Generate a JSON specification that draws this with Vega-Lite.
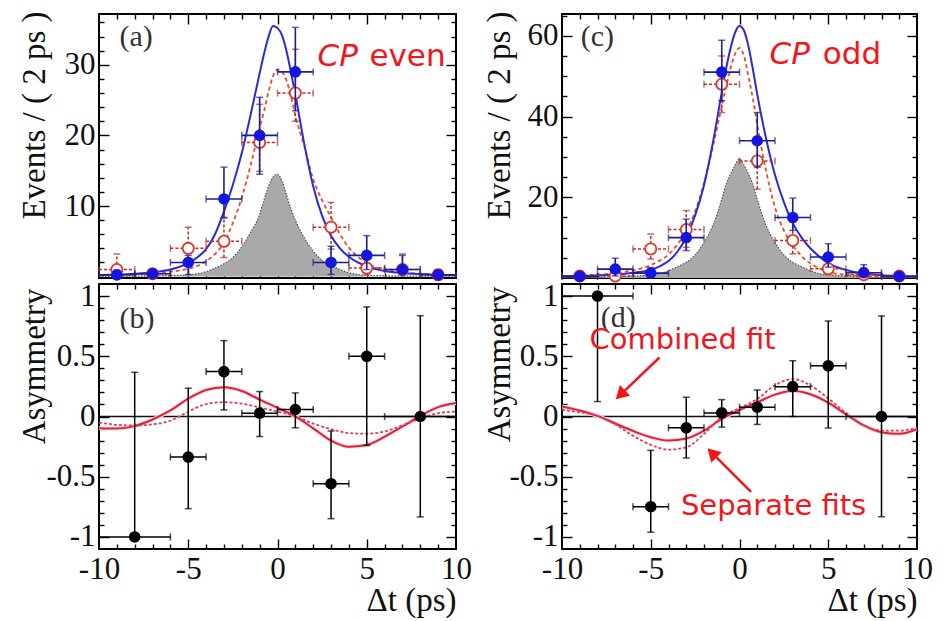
{
"$schema": "https://vega.github.io/schema/vega-lite/v6.json",
"background": "white",
"padding": {"left": 16, "top": 10, "right": 5, "bottom": 5},
"config": {
  "view": {"stroke": "#000000", "strokeWidth": 2},
  "axis": {"domain": false, "grid": false, "tickColor": "#000000", "tickWidth": 1.4, "labelFont": "Liberation Serif", "labelFontSize": 31, "labelColor": "#111111", "titleFont": "Liberation Serif", "titleFontSize": 33, "titleFontWeight": "normal", "titleColor": "#111111", "labelFlush": false, "labelOverlap": false, "labelBound": false}
},
"datasets": {
  "evt": [
    {"p":"a","s":"B","x":-9,"y":0.25,"lo":0,"hi":0.9,"xlo":-10,"xhi":-8},
    {"p":"a","s":"B","x":-7,"y":0.4,"lo":0,"hi":1.0,"xlo":-8,"xhi":-6},
    {"p":"a","s":"B","x":-5,"y":2,"lo":0.3,"hi":3.0,"xlo":-6,"xhi":-4},
    {"p":"a","s":"B","x":-3,"y":11,"lo":8.3,"hi":15.5,"xlo":-4,"xhi":-2},
    {"p":"a","s":"B","x":-1,"y":20,"lo":14.5,"hi":25.4,"xlo":-2,"xhi":0},
    {"p":"a","s":"B","x":1,"y":29,"lo":23.5,"hi":35.3,"xlo":0,"xhi":2},
    {"p":"a","s":"B","x":3,"y":2,"lo":0.3,"hi":4.3,"xlo":2,"xhi":4},
    {"p":"a","s":"B","x":5,"y":3,"lo":1.0,"hi":5.8,"xlo":4,"xhi":6},
    {"p":"a","s":"B","x":7,"y":1,"lo":0.3,"hi":3.0,"xlo":6,"xhi":8},
    {"p":"a","s":"B","x":9,"y":0.25,"lo":0,"hi":0.9,"xlo":8,"xhi":10},
    {"p":"a","s":"R","x":-9,"y":1,"lo":0.3,"hi":3.2,"xlo":-10,"xhi":-8},
    {"p":"a","s":"R","x":-7,"y":0.4,"lo":0,"hi":1.0,"xlo":-8,"xhi":-6},
    {"p":"a","s":"R","x":-5,"y":4,"lo":1.7,"hi":7.0,"xlo":-6,"xhi":-4},
    {"p":"a","s":"R","x":-3,"y":5,"lo":2.7,"hi":8.4,"xlo":-4,"xhi":-2},
    {"p":"a","s":"R","x":-1,"y":19,"lo":14.9,"hi":24.4,"xlo":-2,"xhi":0},
    {"p":"a","s":"R","x":1,"y":26,"lo":22,"hi":32.2,"xlo":0,"xhi":2},
    {"p":"a","s":"R","x":3,"y":7,"lo":3.9,"hi":10.5,"xlo":2,"xhi":4},
    {"p":"a","s":"R","x":5,"y":1.2,"lo":0.4,"hi":2.8,"xlo":4,"xhi":6},
    {"p":"a","s":"R","x":7,"y":1,"lo":0.3,"hi":3.2,"xlo":6,"xhi":8},
    {"p":"a","s":"R","x":9,"y":0.25,"lo":0,"hi":1.0,"xlo":8,"xhi":10},
    {"p":"c","s":"B","x":-9,"y":0.4,"lo":0,"hi":1.2,"xlo":-10,"xhi":-8},
    {"p":"c","s":"B","x":-7,"y":2.2,"lo":0.5,"hi":4.9,"xlo":-8,"xhi":-6},
    {"p":"c","s":"B","x":-5,"y":1.2,"lo":0.3,"hi":2.6,"xlo":-6,"xhi":-4},
    {"p":"c","s":"B","x":-3,"y":10,"lo":6.8,"hi":14.6,"xlo":-4,"xhi":-2},
    {"p":"c","s":"B","x":-1,"y":51,"lo":43.9,"hi":58.9,"xlo":-2,"xhi":0},
    {"p":"c","s":"B","x":1,"y":34,"lo":27.4,"hi":41,"xlo":0,"xhi":2},
    {"p":"c","s":"B","x":3,"y":15,"lo":11.8,"hi":19.8,"xlo":2,"xhi":4},
    {"p":"c","s":"B","x":5,"y":5.2,"lo":2.7,"hi":8.5,"xlo":4,"xhi":6},
    {"p":"c","s":"B","x":7,"y":1.3,"lo":0.3,"hi":3.3,"xlo":6,"xhi":8},
    {"p":"c","s":"B","x":9,"y":0.4,"lo":0,"hi":1.2,"xlo":8,"xhi":10},
    {"p":"c","s":"R","x":-9,"y":0.5,"lo":0,"hi":1.2,"xlo":-10,"xhi":-8},
    {"p":"c","s":"R","x":-7,"y":0.5,"lo":0,"hi":1.2,"xlo":-8,"xhi":-6},
    {"p":"c","s":"R","x":-5,"y":7.2,"lo":4.7,"hi":10.9,"xlo":-6,"xhi":-4},
    {"p":"c","s":"R","x":-3,"y":12,"lo":7.6,"hi":16.7,"xlo":-4,"xhi":-2},
    {"p":"c","s":"R","x":-1,"y":48,"lo":41,"hi":55,"xlo":-2,"xhi":0},
    {"p":"c","s":"R","x":1,"y":29,"lo":22,"hi":34.8,"xlo":0,"xhi":2},
    {"p":"c","s":"R","x":3,"y":9.3,"lo":6,"hi":13.8,"xlo":2,"xhi":4},
    {"p":"c","s":"R","x":5,"y":2.3,"lo":1,"hi":4.5,"xlo":4,"xhi":6},
    {"p":"c","s":"R","x":7,"y":0.8,"lo":0.2,"hi":2.5,"xlo":6,"xhi":8},
    {"p":"c","s":"R","x":9,"y":0.5,"lo":0,"hi":1.2,"xlo":8,"xhi":10}
  ],
  "fit": [
    {"p":"a","c":"B","x":-10,"y":0.2},{"p":"a","c":"B","x":-9,"y":0.28},{"p":"a","c":"B","x":-8,"y":0.4},{"p":"a","c":"B","x":-7,"y":0.6},{"p":"a","c":"B","x":-6,"y":1.0},{"p":"a","c":"B","x":-5,"y":1.9},{"p":"a","c":"B","x":-4.5,"y":2.7},{"p":"a","c":"B","x":-4,"y":3.9},{"p":"a","c":"B","x":-3.5,"y":6.0},{"p":"a","c":"B","x":-3,"y":9.2},{"p":"a","c":"B","x":-2.5,"y":13.0},{"p":"a","c":"B","x":-2,"y":17.5},{"p":"a","c":"B","x":-1.5,"y":23.0},{"p":"a","c":"B","x":-1,"y":28.8},{"p":"a","c":"B","x":-0.75,"y":31.6},{"p":"a","c":"B","x":-0.5,"y":34.0},{"p":"a","c":"B","x":-0.25,"y":35.5},{"p":"a","c":"B","x":0,"y":35.2},{"p":"a","c":"B","x":0.25,"y":34.2},{"p":"a","c":"B","x":0.5,"y":32.0},{"p":"a","c":"B","x":0.75,"y":29.0},{"p":"a","c":"B","x":1,"y":25.8},{"p":"a","c":"B","x":1.5,"y":18.8},{"p":"a","c":"B","x":2,"y":12.8},{"p":"a","c":"B","x":2.5,"y":8.6},{"p":"a","c":"B","x":3,"y":5.8},{"p":"a","c":"B","x":3.5,"y":4.0},{"p":"a","c":"B","x":4,"y":2.8},{"p":"a","c":"B","x":4.5,"y":2.0},{"p":"a","c":"B","x":5,"y":1.45},{"p":"a","c":"B","x":6,"y":0.8},{"p":"a","c":"B","x":7,"y":0.5},{"p":"a","c":"B","x":8,"y":0.35},{"p":"a","c":"B","x":9,"y":0.25},{"p":"a","c":"B","x":10,"y":0.2},
    {"p":"a","c":"R","x":-10,"y":0.15},{"p":"a","c":"R","x":-9,"y":0.2},{"p":"a","c":"R","x":-8,"y":0.3},{"p":"a","c":"R","x":-7,"y":0.45},{"p":"a","c":"R","x":-6,"y":0.7},{"p":"a","c":"R","x":-5,"y":1.1},{"p":"a","c":"R","x":-4.5,"y":1.5},{"p":"a","c":"R","x":-4,"y":2.2},{"p":"a","c":"R","x":-3.5,"y":3.2},{"p":"a","c":"R","x":-3,"y":4.8},{"p":"a","c":"R","x":-2.5,"y":7.6},{"p":"a","c":"R","x":-2,"y":11.2},{"p":"a","c":"R","x":-1.5,"y":15.8},{"p":"a","c":"R","x":-1,"y":21.0},{"p":"a","c":"R","x":-0.75,"y":23.5},{"p":"a","c":"R","x":-0.5,"y":26.2},{"p":"a","c":"R","x":-0.25,"y":28.4},{"p":"a","c":"R","x":0,"y":29.3},{"p":"a","c":"R","x":0.25,"y":29.0},{"p":"a","c":"R","x":0.5,"y":27.8},{"p":"a","c":"R","x":0.75,"y":25.6},{"p":"a","c":"R","x":1,"y":22.8},{"p":"a","c":"R","x":1.5,"y":18.5},{"p":"a","c":"R","x":2,"y":13.8},{"p":"a","c":"R","x":2.5,"y":10.8},{"p":"a","c":"R","x":3,"y":8.4},{"p":"a","c":"R","x":3.5,"y":6.0},{"p":"a","c":"R","x":4,"y":4.1},{"p":"a","c":"R","x":4.5,"y":2.8},{"p":"a","c":"R","x":5,"y":1.9},{"p":"a","c":"R","x":6,"y":1.0},{"p":"a","c":"R","x":7,"y":0.6},{"p":"a","c":"R","x":8,"y":0.4},{"p":"a","c":"R","x":9,"y":0.3},{"p":"a","c":"R","x":10,"y":0.2},
    {"p":"a","c":"K","x":-10,"y":0.05},{"p":"a","c":"K","x":-8,"y":0.08},{"p":"a","c":"K","x":-6,"y":0.15},{"p":"a","c":"K","x":-5,"y":0.25},{"p":"a","c":"K","x":-4.5,"y":0.4},{"p":"a","c":"K","x":-4,"y":0.7},{"p":"a","c":"K","x":-3.5,"y":1.2},{"p":"a","c":"K","x":-3,"y":1.8},{"p":"a","c":"K","x":-2.5,"y":2.7},{"p":"a","c":"K","x":-2,"y":4.2},{"p":"a","c":"K","x":-1.5,"y":6.3},{"p":"a","c":"K","x":-1,"y":8.8},{"p":"a","c":"K","x":-0.75,"y":10.9},{"p":"a","c":"K","x":-0.5,"y":12.8},{"p":"a","c":"K","x":-0.25,"y":14.1},{"p":"a","c":"K","x":0,"y":14.5},{"p":"a","c":"K","x":0.25,"y":13.6},{"p":"a","c":"K","x":0.5,"y":11.6},{"p":"a","c":"K","x":0.75,"y":9.6},{"p":"a","c":"K","x":1,"y":8.0},{"p":"a","c":"K","x":1.5,"y":5.5},{"p":"a","c":"K","x":2,"y":3.6},{"p":"a","c":"K","x":2.5,"y":2.3},{"p":"a","c":"K","x":3,"y":1.6},{"p":"a","c":"K","x":3.5,"y":1.0},{"p":"a","c":"K","x":4,"y":0.55},{"p":"a","c":"K","x":4.5,"y":0.3},{"p":"a","c":"K","x":5,"y":0.2},{"p":"a","c":"K","x":6,"y":0.12},{"p":"a","c":"K","x":8,"y":0.08},{"p":"a","c":"K","x":10,"y":0.05},
    {"p":"c","c":"B","x":-10,"y":0.37},{"p":"c","c":"B","x":-9,"y":0.5},{"p":"c","c":"B","x":-8,"y":0.65},{"p":"c","c":"B","x":-7,"y":0.87},{"p":"c","c":"B","x":-6,"y":1.3},{"p":"c","c":"B","x":-5,"y":2.0},{"p":"c","c":"B","x":-4.5,"y":2.9},{"p":"c","c":"B","x":-4,"y":4.2},{"p":"c","c":"B","x":-3.5,"y":6.5},{"p":"c","c":"B","x":-3,"y":10.1},{"p":"c","c":"B","x":-2.5,"y":15.5},{"p":"c","c":"B","x":-2,"y":23.0},{"p":"c","c":"B","x":-1.5,"y":33.5},{"p":"c","c":"B","x":-1,"y":46.0},{"p":"c","c":"B","x":-0.75,"y":52.0},{"p":"c","c":"B","x":-0.5,"y":57.0},{"p":"c","c":"B","x":-0.25,"y":60.8},{"p":"c","c":"B","x":0,"y":62.4},{"p":"c","c":"B","x":0.25,"y":61.3},{"p":"c","c":"B","x":0.5,"y":57.5},{"p":"c","c":"B","x":0.75,"y":51.8},{"p":"c","c":"B","x":1,"y":45.5},{"p":"c","c":"B","x":1.5,"y":34.5},{"p":"c","c":"B","x":2,"y":25.5},{"p":"c","c":"B","x":2.5,"y":18.8},{"p":"c","c":"B","x":3,"y":13.6},{"p":"c","c":"B","x":3.5,"y":10.0},{"p":"c","c":"B","x":4,"y":7.3},{"p":"c","c":"B","x":4.5,"y":5.3},{"p":"c","c":"B","x":5,"y":3.7},{"p":"c","c":"B","x":6,"y":2.0},{"p":"c","c":"B","x":7,"y":1.15},{"p":"c","c":"B","x":8,"y":0.7},{"p":"c","c":"B","x":9,"y":0.5},{"p":"c","c":"B","x":10,"y":0.37},
    {"p":"c","c":"R","x":-10,"y":0.4},{"p":"c","c":"R","x":-9,"y":0.55},{"p":"c","c":"R","x":-8,"y":0.8},{"p":"c","c":"R","x":-7,"y":1.2},{"p":"c","c":"R","x":-6,"y":1.9},{"p":"c","c":"R","x":-5,"y":3.2},{"p":"c","c":"R","x":-4.5,"y":4.3},{"p":"c","c":"R","x":-4,"y":5.8},{"p":"c","c":"R","x":-3.5,"y":8.3},{"p":"c","c":"R","x":-3,"y":11.6},{"p":"c","c":"R","x":-2.5,"y":16.5},{"p":"c","c":"R","x":-2,"y":23.5},{"p":"c","c":"R","x":-1.5,"y":32.5},{"p":"c","c":"R","x":-1,"y":42.5},{"p":"c","c":"R","x":-0.75,"y":47.5},{"p":"c","c":"R","x":-0.5,"y":52.0},{"p":"c","c":"R","x":-0.25,"y":55.5},{"p":"c","c":"R","x":0,"y":57.0},{"p":"c","c":"R","x":0.25,"y":55.0},{"p":"c","c":"R","x":0.5,"y":50.0},{"p":"c","c":"R","x":0.75,"y":44.5},{"p":"c","c":"R","x":1,"y":38.0},{"p":"c","c":"R","x":1.5,"y":26.5},{"p":"c","c":"R","x":2,"y":17.5},{"p":"c","c":"R","x":2.5,"y":11.8},{"p":"c","c":"R","x":3,"y":8.2},{"p":"c","c":"R","x":3.5,"y":5.4},{"p":"c","c":"R","x":4,"y":3.6},{"p":"c","c":"R","x":4.5,"y":2.4},{"p":"c","c":"R","x":5,"y":1.5},{"p":"c","c":"R","x":6,"y":0.8},{"p":"c","c":"R","x":7,"y":0.5},{"p":"c","c":"R","x":8,"y":0.4},{"p":"c","c":"R","x":9,"y":0.35},{"p":"c","c":"R","x":10,"y":0.3},
    {"p":"c","c":"K","x":-10,"y":0.1},{"p":"c","c":"K","x":-8,"y":0.2},{"p":"c","c":"K","x":-7,"y":0.3},{"p":"c","c":"K","x":-6,"y":0.45},{"p":"c","c":"K","x":-5,"y":0.8},{"p":"c","c":"K","x":-4.5,"y":1.1},{"p":"c","c":"K","x":-4,"y":1.8},{"p":"c","c":"K","x":-3.5,"y":2.8},{"p":"c","c":"K","x":-3,"y":3.9},{"p":"c","c":"K","x":-2.5,"y":5.7},{"p":"c","c":"K","x":-2,"y":8.8},{"p":"c","c":"K","x":-1.5,"y":13.0},{"p":"c","c":"K","x":-1,"y":19.5},{"p":"c","c":"K","x":-0.75,"y":23.3},{"p":"c","c":"K","x":-0.5,"y":25.8},{"p":"c","c":"K","x":-0.25,"y":28.0},{"p":"c","c":"K","x":0,"y":29.5},{"p":"c","c":"K","x":0.25,"y":28.0},{"p":"c","c":"K","x":0.5,"y":25.8},{"p":"c","c":"K","x":0.75,"y":23.3},{"p":"c","c":"K","x":1,"y":19.5},{"p":"c","c":"K","x":1.5,"y":13.0},{"p":"c","c":"K","x":2,"y":8.8},{"p":"c","c":"K","x":2.5,"y":5.7},{"p":"c","c":"K","x":3,"y":3.9},{"p":"c","c":"K","x":3.5,"y":2.8},{"p":"c","c":"K","x":4,"y":1.8},{"p":"c","c":"K","x":4.5,"y":1.1},{"p":"c","c":"K","x":5,"y":0.8},{"p":"c","c":"K","x":6,"y":0.45},{"p":"c","c":"K","x":7,"y":0.3},{"p":"c","c":"K","x":8,"y":0.2},{"p":"c","c":"K","x":10,"y":0.1}
  ],
  "apt": [
    {"p":"b","x":-8,"y":-1.0,"lo":-1.0,"hi":0.367,"xlo":-10,"xhi":-6},
    {"p":"b","x":-5,"y":-0.337,"lo":-0.765,"hi":0.235,"xlo":-6,"xhi":-4},
    {"p":"b","x":-3,"y":0.373,"lo":0.055,"hi":0.63,"xlo":-4,"xhi":-2},
    {"p":"b","x":-1,"y":0.028,"lo":-0.166,"hi":0.207,"xlo":-2,"xhi":0},
    {"p":"b","x":1,"y":0.058,"lo":-0.094,"hi":0.196,"xlo":0,"xhi":2},
    {"p":"b","x":3,"y":-0.558,"lo":-0.848,"hi":-0.12,"xlo":2,"xhi":4},
    {"p":"b","x":5,"y":0.5,"lo":-0.24,"hi":0.91,"xlo":4,"xhi":6},
    {"p":"b","x":8,"y":0,"lo":-0.834,"hi":0.837,"xlo":6,"xhi":10},
    {"p":"d","x":-8,"y":1.0,"lo":0.124,"hi":1.0,"xlo":-10,"xhi":-6},
    {"p":"d","x":-5,"y":-0.749,"lo":-0.961,"hi":-0.281,"xlo":-6,"xhi":-4},
    {"p":"d","x":-3,"y":-0.094,"lo":-0.344,"hi":0.16,"xlo":-4,"xhi":-2},
    {"p":"d","x":-1,"y":0.03,"lo":-0.088,"hi":0.14,"xlo":-2,"xhi":0},
    {"p":"d","x":1,"y":0.077,"lo":-0.066,"hi":0.22,"xlo":0,"xhi":2},
    {"p":"d","x":3,"y":0.248,"lo":0.0,"hi":0.463,"xlo":2,"xhi":4},
    {"p":"d","x":5,"y":0.421,"lo":-0.096,"hi":0.793,"xlo":4,"xhi":6},
    {"p":"d","x":8,"y":0,"lo":-0.832,"hi":0.835,"xlo":6,"xhi":10}
  ],
  "afit": [
    {"p":"b","c":"C","x":-10,"y":-0.097},{"p":"b","c":"C","x":-9,"y":-0.1},{"p":"b","c":"C","x":-8,"y":-0.08},{"p":"b","c":"C","x":-7,"y":-0.025},{"p":"b","c":"C","x":-6,"y":0.05},{"p":"b","c":"C","x":-5,"y":0.148},{"p":"b","c":"C","x":-4,"y":0.22},{"p":"b","c":"C","x":-3,"y":0.243},{"p":"b","c":"C","x":-2,"y":0.212},{"p":"b","c":"C","x":-1,"y":0.14},{"p":"b","c":"C","x":0,"y":0.072},{"p":"b","c":"C","x":1,"y":0.002},{"p":"b","c":"C","x":2,"y":-0.098},{"p":"b","c":"C","x":3,"y":-0.2},{"p":"b","c":"C","x":4,"y":-0.252},{"p":"b","c":"C","x":5,"y":-0.237},{"p":"b","c":"C","x":6,"y":-0.168},{"p":"b","c":"C","x":7,"y":-0.083},{"p":"b","c":"C","x":8,"y":0.005},{"p":"b","c":"C","x":9,"y":0.078},{"p":"b","c":"C","x":10,"y":0.112},
    {"p":"b","c":"S","x":-10,"y":-0.05},{"p":"b","c":"S","x":-9,"y":-0.069},{"p":"b","c":"S","x":-8,"y":-0.075},{"p":"b","c":"S","x":-7,"y":-0.065},{"p":"b","c":"S","x":-6,"y":-0.035},{"p":"b","c":"S","x":-5.5,"y":0.0},{"p":"b","c":"S","x":-5,"y":0.04},{"p":"b","c":"S","x":-4,"y":0.103},{"p":"b","c":"S","x":-3,"y":0.119},{"p":"b","c":"S","x":-2,"y":0.107},{"p":"b","c":"S","x":-1,"y":0.075},{"p":"b","c":"S","x":0,"y":0.041},{"p":"b","c":"S","x":1,"y":0.001},{"p":"b","c":"S","x":2,"y":-0.059},{"p":"b","c":"S","x":3,"y":-0.105},{"p":"b","c":"S","x":4,"y":-0.138},{"p":"b","c":"S","x":5,"y":-0.143},{"p":"b","c":"S","x":6,"y":-0.125},{"p":"b","c":"S","x":7,"y":-0.073},{"p":"b","c":"S","x":8,"y":-0.017},{"p":"b","c":"S","x":9,"y":0.028},{"p":"b","c":"S","x":10,"y":0.041},
    {"p":"d","c":"C","x":-10,"y":0.083},{"p":"d","c":"C","x":-9,"y":0.05},{"p":"d","c":"C","x":-8,"y":0.005},{"p":"d","c":"C","x":-7,"y":-0.058},{"p":"d","c":"C","x":-6,"y":-0.12},{"p":"d","c":"C","x":-5,"y":-0.172},{"p":"d","c":"C","x":-4,"y":-0.2},{"p":"d","c":"C","x":-3,"y":-0.183},{"p":"d","c":"C","x":-2,"y":-0.117},{"p":"d","c":"C","x":-1,"y":-0.02},{"p":"d","c":"C","x":0,"y":0.055},{"p":"d","c":"C","x":1,"y":0.118},{"p":"d","c":"C","x":2,"y":0.182},{"p":"d","c":"C","x":3,"y":0.214},{"p":"d","c":"C","x":4,"y":0.185},{"p":"d","c":"C","x":5,"y":0.115},{"p":"d","c":"C","x":6,"y":0.018},{"p":"d","c":"C","x":7,"y":-0.074},{"p":"d","c":"C","x":8,"y":-0.13},{"p":"d","c":"C","x":9,"y":-0.143},{"p":"d","c":"C","x":10,"y":-0.105},
    {"p":"d","c":"S","x":-10,"y":0.055},{"p":"d","c":"S","x":-9,"y":0.035},{"p":"d","c":"S","x":-8,"y":0.005},{"p":"d","c":"S","x":-7,"y":-0.066},{"p":"d","c":"S","x":-6,"y":-0.16},{"p":"d","c":"S","x":-5,"y":-0.235},{"p":"d","c":"S","x":-4,"y":-0.275},{"p":"d","c":"S","x":-3,"y":-0.256},{"p":"d","c":"S","x":-2,"y":-0.145},{"p":"d","c":"S","x":-1,"y":-0.003},{"p":"d","c":"S","x":0,"y":0.07},{"p":"d","c":"S","x":1,"y":0.146},{"p":"d","c":"S","x":2,"y":0.26},{"p":"d","c":"S","x":3,"y":0.31},{"p":"d","c":"S","x":4,"y":0.258},{"p":"d","c":"S","x":5,"y":0.15},{"p":"d","c":"S","x":6,"y":0.03},{"p":"d","c":"S","x":7,"y":-0.074},{"p":"d","c":"S","x":8,"y":-0.117},{"p":"d","c":"S","x":9,"y":-0.118},{"p":"d","c":"S","x":10,"y":-0.095}
  ],
  "ann": [
    {"p":"a","k":"lab","t":"(a)","x":-8.85,"y":34.0},
    {"p":"b","k":"lab","t":"(b)","x":-8.85,"y":0.81},
    {"p":"c","k":"lab","t":"(c)","x":-8.94,"y":59.6},
    {"p":"d","k":"lab","t":"(d)","x":-7.81,"y":0.82},
    {"p":"a","k":"it","t":"CP","x":2.24,"y":29.9},
    {"p":"a","k":"up","t":"even","x":5.15,"y":29.9},
    {"p":"c","k":"it","t":"CP","x":1.69,"y":52.9},
    {"p":"c","k":"up","t":"odd","x":4.69,"y":52.9},
    {"p":"d","k":"nt","t":"Combined fit","x":-8.45,"y":0.559},
    {"p":"d","k":"nt","t":"Separate fits","x":-3.3,"y":-0.818}
  ],
  "arr": [
    {"id":1,"x":-4.51,"y":0.49,"xh":-6.71,"yh":0.18},
    {"id":2,"x":0.65,"y":-0.626,"xh":-1.55,"yh":-0.302}
  ]
},
"columns": 2,
"spacing": {"row": 6, "column": 106},
"bounds": "flush",
"concat": [
{
  "width": 357, "height": 264,
  "layer": [
    {
      "encoding": {
        "x": {"field":"x","type":"quantitative","scale":{"domain":[-10,10],"nice":false,"zero":false},
              "axis":{"orient":"bottom","ticks":false,"labels":false,"title":null}},
        "y": {"field":"y","type":"quantitative","scale":{"domain":[-0.2,37.2],"nice":false,"zero":false},
              "axis":{"orient":"left","values":[10,20,30],"ticks":false,"labelExpr":"'' + datum.value","labelPadding":4,"title":"Events / ( 2 ps )","titleX":-65,"titleY":-3,"titleAngle":-90,"titleAlign":"right","titleBaseline":"middle"}}
      },
      "layer": [
        {"data":{"name":"fit"},"transform":[{"filter":"datum.p==='a' && datum.c==='K'"}],"mark":{"type":"area","color":"#a9a9a9","interpolate":"monotone","clip":true}},
        {"data":{"name":"fit"},"transform":[{"filter":"datum.p==='a' && datum.c==='K'"}],"mark":{"type":"line","color":"#555555","strokeDash":[1.5,1.5],"strokeWidth":1.2,"interpolate":"monotone","clip":true}},
        {"data":{"name":"fit"},"transform":[{"filter":"datum.p==='a' && datum.c==='R'"}],"mark":{"type":"line","color":"#e5502c","strokeDash":[4,3],"strokeWidth":1.8,"interpolate":"monotone","clip":true}},
        {"data":{"name":"fit"},"transform":[{"filter":"datum.p==='a' && datum.c==='B'"}],"mark":{"type":"line","color":"#2b2bd6","strokeWidth":2,"interpolate":"monotone","clip":true}},
        {"data":{"name":"evt"},"transform":[{"filter":"datum.p==='a' && datum.s==='R'"}],"mark":{"type":"rule","color":"#b3302c","strokeDash":[3,2],"strokeWidth":1.5},"encoding":{"y":{"field":"lo","type":"quantitative"},"y2":{"field":"hi"}}},
        {"data":{"name":"evt"},"transform":[{"filter":"datum.p==='a' && datum.s==='R'"}],"mark":{"type":"rule","color":"#b3302c","strokeDash":[3,2],"strokeWidth":1.5},"encoding":{"x":{"field":"xlo","type":"quantitative"},"x2":{"field":"xhi"}}},
        {"data":{"name":"evt"},"transform":[{"filter":"datum.p==='a' && datum.s==='R'"},{"fold":["lo","hi"],"as":["k2","v"]}],"mark":{"type":"tick","orient":"horizontal","color":"#b3302c","size":7,"thickness":1.5},"encoding":{"y":{"field":"v","type":"quantitative"}}},
        {"data":{"name":"evt"},"transform":[{"filter":"datum.p==='a' && datum.s==='R'"},{"fold":["xlo","xhi"],"as":["k2","v"]}],"mark":{"type":"tick","orient":"vertical","color":"#b3302c","size":7,"thickness":1.5},"encoding":{"x":{"field":"v","type":"quantitative"}}},
        {"data":{"name":"evt"},"transform":[{"filter":"datum.p==='a' && datum.s==='R'"}],"mark":{"type":"point","shape":"circle","filled":true,"fill":"#ffffff","stroke":"#e0352f","strokeWidth":1.8,"size":125,"opacity":1}},
        {"data":{"name":"evt"},"transform":[{"filter":"datum.p==='a' && datum.s==='B'"}],"mark":{"type":"rule","color":"#1e1e90","strokeWidth":1.6},"encoding":{"y":{"field":"lo","type":"quantitative"},"y2":{"field":"hi"}}},
        {"data":{"name":"evt"},"transform":[{"filter":"datum.p==='a' && datum.s==='B'"}],"mark":{"type":"rule","color":"#1e1e90","strokeWidth":1.6},"encoding":{"x":{"field":"xlo","type":"quantitative"},"x2":{"field":"xhi"}}},
        {"data":{"name":"evt"},"transform":[{"filter":"datum.p==='a' && datum.s==='B'"},{"fold":["lo","hi"],"as":["k2","v"]}],"mark":{"type":"tick","orient":"horizontal","color":"#1e1e90","size":7,"thickness":1.5},"encoding":{"y":{"field":"v","type":"quantitative"}}},
        {"data":{"name":"evt"},"transform":[{"filter":"datum.p==='a' && datum.s==='B'"},{"fold":["xlo","xhi"],"as":["k2","v"]}],"mark":{"type":"tick","orient":"vertical","color":"#1e1e90","size":7,"thickness":1.5},"encoding":{"x":{"field":"v","type":"quantitative"}}},
        {"data":{"name":"evt"},"transform":[{"filter":"datum.p==='a' && datum.s==='B'"}],"mark":{"type":"point","shape":"circle","filled":true,"color":"#1515e0","size":135,"opacity":1}},
        {"data":{"name":"ann"},"transform":[{"filter":"datum.p==='a' && datum.k==='lab'"}],"mark":{"type":"text","font":"Liberation Serif","fontSize":30,"color":"#333333","align":"left","baseline":"middle"},"encoding":{"text":{"field":"t"}}},
        {"data":{"name":"ann"},"transform":[{"filter":"datum.p==='a' && datum.k==='it'"}],"mark":{"type":"text","font":"DejaVu Sans","fontStyle":"italic","fontSize":31,"color":"#f2151b","align":"left","baseline":"alphabetic"},"encoding":{"text":{"field":"t"}}},
        {"data":{"name":"ann"},"transform":[{"filter":"datum.p==='a' && datum.k==='up'"}],"mark":{"type":"text","font":"DejaVu Sans","fontSize":31,"color":"#f2151b","align":"left","baseline":"alphabetic"},"encoding":{"text":{"field":"t"}}}
      ]
    },
    {"data":{"values":[{"x":0,"y":1}]},"mark":{"type":"point","opacity":0},
     "encoding":{"x":{"field":"x","type":"quantitative","scale":{"domain":[-10,10],"nice":false,"zero":false},"axis":{"orient":"bottom","values":[-5,0,5],"labels":false,"title":null,"tickSize":10,"offset":-10}},
                 "y":{"field":"y","type":"quantitative","scale":{"domain":[-0.2,37.2],"nice":false,"zero":false},"axis":{"orient":"left","values":[10,20,30],"labels":false,"title":null,"tickSize":10,"offset":-10}}}},
    {"data":{"values":[{"x":0,"y":1}]},"mark":{"type":"point","opacity":0},
     "encoding":{"x":{"field":"x","type":"quantitative","scale":{"domain":[-10,10],"nice":false,"zero":false},"axis":{"orient":"bottom","values":[-9,-8,-7,-6,-4,-3,-2,-1,1,2,3,4,6,7,8,9],"labels":false,"title":null,"tickSize":5,"offset":-5}},
                 "y":{"field":"y","type":"quantitative","scale":{"domain":[-0.2,37.2],"nice":false,"zero":false},"axis":{"orient":"left","values":[2,4,6,8,12,14,16,18,22,24,26,28,32,34,36],"labels":false,"title":null,"tickSize":5,"offset":-5}}}},
    {"data":{"values":[{"x":0,"y":1}]},"mark":{"type":"point","opacity":0},
     "encoding":{"x":{"field":"x","type":"quantitative","scale":{"domain":[-10,10],"nice":false,"zero":false},"axis":{"orient":"top","values":[-5,0,5],"labels":false,"title":null,"tickSize":10,"offset":-10}},
                 "y":{"field":"y","type":"quantitative","scale":{"domain":[-0.2,37.2],"nice":false,"zero":false},"axis":{"orient":"right","values":[10,20,30],"labels":false,"title":null,"tickSize":10,"offset":-10}}}},
    {"data":{"values":[{"x":0,"y":1}]},"mark":{"type":"point","opacity":0},
     "encoding":{"x":{"field":"x","type":"quantitative","scale":{"domain":[-10,10],"nice":false,"zero":false},"axis":{"orient":"top","values":[-9,-8,-7,-6,-4,-3,-2,-1,1,2,3,4,6,7,8,9],"labels":false,"title":null,"tickSize":5,"offset":-5}},
                 "y":{"field":"y","type":"quantitative","scale":{"domain":[-0.2,37.2],"nice":false,"zero":false},"axis":{"orient":"right","values":[2,4,6,8,12,14,16,18,22,24,26,28,32,34,36],"labels":false,"title":null,"tickSize":5,"offset":-5}}}}
  ],
  "resolve": {"axis": {"x":"independent","y":"independent"}}
},
{
  "width": 355, "height": 264,
  "layer": [
    {
      "encoding": {
        "x": {"field":"x","type":"quantitative","scale":{"domain":[-10,10],"nice":false,"zero":false},
              "axis":{"orient":"bottom","ticks":false,"labels":false,"title":null}},
        "y": {"field":"y","type":"quantitative","scale":{"domain":[0,65.4],"nice":false,"zero":false},
              "axis":{"orient":"left","values":[20,40,60],"ticks":false,"labelExpr":"'' + datum.value","labelPadding":4,"title":"Events / ( 2 ps )","titleX":-63,"titleY":-3,"titleAngle":-90,"titleAlign":"right","titleBaseline":"middle"}}
      },
      "layer": [
        {"data":{"name":"fit"},"transform":[{"filter":"datum.p==='c' && datum.c==='K'"}],"mark":{"type":"area","color":"#a9a9a9","interpolate":"monotone","clip":true}},
        {"data":{"name":"fit"},"transform":[{"filter":"datum.p==='c' && datum.c==='K'"}],"mark":{"type":"line","color":"#555555","strokeDash":[1.5,1.5],"strokeWidth":1.2,"interpolate":"monotone","clip":true}},
        {"data":{"name":"fit"},"transform":[{"filter":"datum.p==='c' && datum.c==='R'"}],"mark":{"type":"line","color":"#e5502c","strokeDash":[4,3],"strokeWidth":1.8,"interpolate":"monotone","clip":true}},
        {"data":{"name":"fit"},"transform":[{"filter":"datum.p==='c' && datum.c==='B'"}],"mark":{"type":"line","color":"#2b2bd6","strokeWidth":2,"interpolate":"monotone","clip":true}},
        {"data":{"name":"evt"},"transform":[{"filter":"datum.p==='c' && datum.s==='R'"}],"mark":{"type":"rule","color":"#b3302c","strokeDash":[3,2],"strokeWidth":1.5},"encoding":{"y":{"field":"lo","type":"quantitative"},"y2":{"field":"hi"}}},
        {"data":{"name":"evt"},"transform":[{"filter":"datum.p==='c' && datum.s==='R'"}],"mark":{"type":"rule","color":"#b3302c","strokeDash":[3,2],"strokeWidth":1.5},"encoding":{"x":{"field":"xlo","type":"quantitative"},"x2":{"field":"xhi"}}},
        {"data":{"name":"evt"},"transform":[{"filter":"datum.p==='c' && datum.s==='R'"},{"fold":["lo","hi"],"as":["k2","v"]}],"mark":{"type":"tick","orient":"horizontal","color":"#b3302c","size":7,"thickness":1.5},"encoding":{"y":{"field":"v","type":"quantitative"}}},
        {"data":{"name":"evt"},"transform":[{"filter":"datum.p==='c' && datum.s==='R'"},{"fold":["xlo","xhi"],"as":["k2","v"]}],"mark":{"type":"tick","orient":"vertical","color":"#b3302c","size":7,"thickness":1.5},"encoding":{"x":{"field":"v","type":"quantitative"}}},
        {"data":{"name":"evt"},"transform":[{"filter":"datum.p==='c' && datum.s==='R'"}],"mark":{"type":"point","shape":"circle","filled":true,"fill":"#ffffff","stroke":"#e0352f","strokeWidth":1.8,"size":125,"opacity":1}},
        {"data":{"name":"evt"},"transform":[{"filter":"datum.p==='c' && datum.s==='B'"}],"mark":{"type":"rule","color":"#1e1e90","strokeWidth":1.6},"encoding":{"y":{"field":"lo","type":"quantitative"},"y2":{"field":"hi"}}},
        {"data":{"name":"evt"},"transform":[{"filter":"datum.p==='c' && datum.s==='B'"}],"mark":{"type":"rule","color":"#1e1e90","strokeWidth":1.6},"encoding":{"x":{"field":"xlo","type":"quantitative"},"x2":{"field":"xhi"}}},
        {"data":{"name":"evt"},"transform":[{"filter":"datum.p==='c' && datum.s==='B'"},{"fold":["lo","hi"],"as":["k2","v"]}],"mark":{"type":"tick","orient":"horizontal","color":"#1e1e90","size":7,"thickness":1.5},"encoding":{"y":{"field":"v","type":"quantitative"}}},
        {"data":{"name":"evt"},"transform":[{"filter":"datum.p==='c' && datum.s==='B'"},{"fold":["xlo","xhi"],"as":["k2","v"]}],"mark":{"type":"tick","orient":"vertical","color":"#1e1e90","size":7,"thickness":1.5},"encoding":{"x":{"field":"v","type":"quantitative"}}},
        {"data":{"name":"evt"},"transform":[{"filter":"datum.p==='c' && datum.s==='B'"}],"mark":{"type":"point","shape":"circle","filled":true,"color":"#1515e0","size":135,"opacity":1}},
        {"data":{"name":"ann"},"transform":[{"filter":"datum.p==='c' && datum.k==='lab'"}],"mark":{"type":"text","font":"Liberation Serif","fontSize":30,"color":"#333333","align":"left","baseline":"middle"},"encoding":{"text":{"field":"t"}}},
        {"data":{"name":"ann"},"transform":[{"filter":"datum.p==='c' && datum.k==='it'"}],"mark":{"type":"text","font":"DejaVu Sans","fontStyle":"italic","fontSize":31,"color":"#f2151b","align":"left","baseline":"alphabetic"},"encoding":{"text":{"field":"t"}}},
        {"data":{"name":"ann"},"transform":[{"filter":"datum.p==='c' && datum.k==='up'"}],"mark":{"type":"text","font":"DejaVu Sans","fontSize":31,"color":"#f2151b","align":"left","baseline":"alphabetic"},"encoding":{"text":{"field":"t"}}}
      ]
    },
    {"data":{"values":[{"x":0,"y":1}]},"mark":{"type":"point","opacity":0},
     "encoding":{"x":{"field":"x","type":"quantitative","scale":{"domain":[-10,10],"nice":false,"zero":false},"axis":{"orient":"bottom","values":[-5,0,5],"labels":false,"title":null,"tickSize":10,"offset":-10}},
                 "y":{"field":"y","type":"quantitative","scale":{"domain":[0,65.4],"nice":false,"zero":false},"axis":{"orient":"left","values":[20,40,60],"labels":false,"title":null,"tickSize":10,"offset":-10}}}},
    {"data":{"values":[{"x":0,"y":1}]},"mark":{"type":"point","opacity":0},
     "encoding":{"x":{"field":"x","type":"quantitative","scale":{"domain":[-10,10],"nice":false,"zero":false},"axis":{"orient":"bottom","values":[-9,-8,-7,-6,-4,-3,-2,-1,1,2,3,4,6,7,8,9],"labels":false,"title":null,"tickSize":5,"offset":-5}},
                 "y":{"field":"y","type":"quantitative","scale":{"domain":[0,65.4],"nice":false,"zero":false},"axis":{"orient":"left","values":[5,10,15,25,30,35,45,50,55,65],"labels":false,"title":null,"tickSize":5,"offset":-5}}}},
    {"data":{"values":[{"x":0,"y":1}]},"mark":{"type":"point","opacity":0},
     "encoding":{"x":{"field":"x","type":"quantitative","scale":{"domain":[-10,10],"nice":false,"zero":false},"axis":{"orient":"top","values":[-5,0,5],"labels":false,"title":null,"tickSize":10,"offset":-10}},
                 "y":{"field":"y","type":"quantitative","scale":{"domain":[0,65.4],"nice":false,"zero":false},"axis":{"orient":"right","values":[20,40,60],"labels":false,"title":null,"tickSize":10,"offset":-10}}}},
    {"data":{"values":[{"x":0,"y":1}]},"mark":{"type":"point","opacity":0},
     "encoding":{"x":{"field":"x","type":"quantitative","scale":{"domain":[-10,10],"nice":false,"zero":false},"axis":{"orient":"top","values":[-9,-8,-7,-6,-4,-3,-2,-1,1,2,3,4,6,7,8,9],"labels":false,"title":null,"tickSize":5,"offset":-5}},
                 "y":{"field":"y","type":"quantitative","scale":{"domain":[0,65.4],"nice":false,"zero":false},"axis":{"orient":"right","values":[5,10,15,25,30,35,45,50,55,65],"labels":false,"title":null,"tickSize":5,"offset":-5}}}}
  ],
  "resolve": {"axis": {"x":"independent","y":"independent"}}
},
{
  "width": 357, "height": 265,
  "layer": [
    {
      "data": {"values":[{"x":-10,"x2":10,"y":0}]},
      "mark": {"type":"rule","color":"#111111","strokeWidth":1.5},
      "encoding": {
        "x": {"field":"x","type":"quantitative","scale":{"domain":[-10,10],"nice":false,"zero":false},"axis":{"orient":"top","values":[-5,0,5],"labels":false,"title":null,"tickSize":10,"offset":-10}},
        "x2": {"field":"x2"},
        "y": {"field":"y","type":"quantitative","scale":{"domain":[-1.1,1.1],"nice":false,"zero":false},"axis":{"orient":"right","values":[-1,-0.5,0,0.5,1],"labels":false,"title":null,"tickSize":10,"offset":-10}}
      }
    },
    {
      "encoding": {
        "x": {"field":"x","type":"quantitative","scale":{"domain":[-10,10],"nice":false,"zero":false},
              "axis":{"orient":"bottom","values":[-10,-5,0,5,10],"ticks":false,"labelExpr":"'' + datum.value","labelPadding":5,"title":"Δt (ps)","titleX":357,"titleY":61,"titleAlign":"right","titleBaseline":"alphabetic","titleAngle":0}},
        "y": {"field":"y","type":"quantitative","scale":{"domain":[-1.1,1.1],"nice":false,"zero":false},
              "axis":{"orient":"left","values":[-1,-0.5,0,0.5,1],"ticks":false,"labelExpr":"'' + datum.value","labelPadding":4,"title":"Asymmetry","titleX":-65,"titleY":4,"titleAngle":-90,"titleAlign":"right","titleBaseline":"middle"}}
      },
      "layer": [
        {"data":{"name":"afit"},"transform":[{"filter":"datum.p==='b' && datum.c==='C'"}],"mark":{"type":"line","color":"#fadbe0","strokeWidth":4,"interpolate":"monotone","clip":true}},
        {"data":{"name":"afit"},"transform":[{"filter":"datum.p==='b' && datum.c==='C'"}],"mark":{"type":"line","color":"#e01f3d","strokeWidth":2,"interpolate":"monotone","clip":true}},
        {"data":{"name":"afit"},"transform":[{"filter":"datum.p==='b' && datum.c==='S'"}],"mark":{"type":"line","color":"#d8405a","strokeDash":[3,2],"strokeWidth":1.8,"interpolate":"monotone","clip":true}},
        {"data":{"name":"apt"},"transform":[{"filter":"datum.p==='b'"}],"mark":{"type":"rule","color":"#000000","strokeWidth":1.5,"clip":true},"encoding":{"y":{"field":"lo","type":"quantitative"},"y2":{"field":"hi"}}},
        {"data":{"name":"apt"},"transform":[{"filter":"datum.p==='b'"}],"mark":{"type":"rule","color":"#000000","strokeWidth":1.5},"encoding":{"x":{"field":"xlo","type":"quantitative"},"x2":{"field":"xhi"}}},
        {"data":{"name":"apt"},"transform":[{"filter":"datum.p==='b'"},{"fold":["lo","hi"],"as":["k2","v"]}],"mark":{"type":"tick","orient":"horizontal","color":"#000000","size":7,"thickness":1.5},"encoding":{"y":{"field":"v","type":"quantitative"}}},
        {"data":{"name":"apt"},"transform":[{"filter":"datum.p==='b'"},{"fold":["xlo","xhi"],"as":["k2","v"]}],"mark":{"type":"tick","orient":"vertical","color":"#000000","size":7,"thickness":1.5},"encoding":{"x":{"field":"v","type":"quantitative"}}},
        {"data":{"name":"apt"},"transform":[{"filter":"datum.p==='b'"}],"mark":{"type":"point","shape":"circle","filled":true,"color":"#000000","size":135,"opacity":1}},
        {"data":{"name":"ann"},"transform":[{"filter":"datum.p==='b' && datum.k==='lab'"}],"mark":{"type":"text","font":"Liberation Serif","fontSize":30,"color":"#333333","align":"left","baseline":"middle"},"encoding":{"text":{"field":"t"}}}
      ]
    },
    {"data":{"values":[{"x":0,"y":0}]},"mark":{"type":"point","opacity":0},
     "encoding":{"x":{"field":"x","type":"quantitative","scale":{"domain":[-10,10],"nice":false,"zero":false},"axis":{"orient":"bottom","values":[-5,0,5],"labels":false,"title":null,"tickSize":10,"offset":-10}},
                 "y":{"field":"y","type":"quantitative","scale":{"domain":[-1.1,1.1],"nice":false,"zero":false},"axis":{"orient":"left","values":[-1,-0.5,0,0.5,1],"labels":false,"title":null,"tickSize":10,"offset":-10}}}},
    {"data":{"values":[{"x":0,"y":0}]},"mark":{"type":"point","opacity":0},
     "encoding":{"x":{"field":"x","type":"quantitative","scale":{"domain":[-10,10],"nice":false,"zero":false},"axis":{"orient":"bottom","values":[-9,-8,-7,-6,-4,-3,-2,-1,1,2,3,4,6,7,8,9],"labels":false,"title":null,"tickSize":5,"offset":-5}},
                 "y":{"field":"y","type":"quantitative","scale":{"domain":[-1.1,1.1],"nice":false,"zero":false},"axis":{"orient":"left","values":[-0.9,-0.8,-0.7,-0.6,-0.4,-0.3,-0.2,-0.1,0.1,0.2,0.3,0.4,0.6,0.7,0.8,0.9],"labels":false,"title":null,"tickSize":5,"offset":-5}}}},
    {"data":{"values":[{"x":0,"y":0}]},"mark":{"type":"point","opacity":0},
     "encoding":{"x":{"field":"x","type":"quantitative","scale":{"domain":[-10,10],"nice":false,"zero":false},"axis":{"orient":"top","values":[-9,-8,-7,-6,-4,-3,-2,-1,1,2,3,4,6,7,8,9],"labels":false,"title":null,"tickSize":5,"offset":-5}},
                 "y":{"field":"y","type":"quantitative","scale":{"domain":[-1.1,1.1],"nice":false,"zero":false},"axis":{"orient":"right","values":[-0.9,-0.8,-0.7,-0.6,-0.4,-0.3,-0.2,-0.1,0.1,0.2,0.3,0.4,0.6,0.7,0.8,0.9],"labels":false,"title":null,"tickSize":5,"offset":-5}}}}
  ],
  "resolve": {"axis": {"x":"independent","y":"independent"}}
},
{
  "width": 355, "height": 265,
  "layer": [
    {
      "data": {"values":[{"x":-10,"x2":10,"y":0}]},
      "mark": {"type":"rule","color":"#111111","strokeWidth":1.5},
      "encoding": {
        "x": {"field":"x","type":"quantitative","scale":{"domain":[-10,10],"nice":false,"zero":false},"axis":{"orient":"top","values":[-5,0,5],"labels":false,"title":null,"tickSize":10,"offset":-10}},
        "x2": {"field":"x2"},
        "y": {"field":"y","type":"quantitative","scale":{"domain":[-1.1,1.1],"nice":false,"zero":false},"axis":{"orient":"right","values":[-1,-0.5,0,0.5,1],"labels":false,"title":null,"tickSize":10,"offset":-10}}
      }
    },
    {
      "encoding": {
        "x": {"field":"x","type":"quantitative","scale":{"domain":[-10,10],"nice":false,"zero":false},
              "axis":{"orient":"bottom","values":[-10,-5,0,5,10],"ticks":false,"labelExpr":"'' + datum.value","labelPadding":5,"title":"Δt (ps)","titleX":355,"titleY":61,"titleAlign":"right","titleBaseline":"alphabetic","titleAngle":0}},
        "y": {"field":"y","type":"quantitative","scale":{"domain":[-1.1,1.1],"nice":false,"zero":false},
              "axis":{"orient":"left","values":[-1,-0.5,0,0.5,1],"ticks":false,"labelExpr":"'' + datum.value","labelPadding":4,"title":"Asymmetry","titleX":-62.5,"titleY":2,"titleAngle":-90,"titleAlign":"right","titleBaseline":"middle"}}
      },
      "layer": [
        {"data":{"name":"afit"},"transform":[{"filter":"datum.p==='d' && datum.c==='C'"}],"mark":{"type":"line","color":"#fadbe0","strokeWidth":4,"interpolate":"monotone","clip":true}},
        {"data":{"name":"afit"},"transform":[{"filter":"datum.p==='d' && datum.c==='C'"}],"mark":{"type":"line","color":"#e01f3d","strokeWidth":2,"interpolate":"monotone","clip":true}},
        {"data":{"name":"afit"},"transform":[{"filter":"datum.p==='d' && datum.c==='S'"}],"mark":{"type":"line","color":"#d8405a","strokeDash":[3,2],"strokeWidth":1.8,"interpolate":"monotone","clip":true}},
        {"data":{"name":"apt"},"transform":[{"filter":"datum.p==='d'"}],"mark":{"type":"rule","color":"#000000","strokeWidth":1.5,"clip":true},"encoding":{"y":{"field":"lo","type":"quantitative"},"y2":{"field":"hi"}}},
        {"data":{"name":"apt"},"transform":[{"filter":"datum.p==='d'"}],"mark":{"type":"rule","color":"#000000","strokeWidth":1.5},"encoding":{"x":{"field":"xlo","type":"quantitative"},"x2":{"field":"xhi"}}},
        {"data":{"name":"apt"},"transform":[{"filter":"datum.p==='d'"},{"fold":["lo","hi"],"as":["k2","v"]}],"mark":{"type":"tick","orient":"horizontal","color":"#000000","size":7,"thickness":1.5},"encoding":{"y":{"field":"v","type":"quantitative"}}},
        {"data":{"name":"apt"},"transform":[{"filter":"datum.p==='d'"},{"fold":["xlo","xhi"],"as":["k2","v"]}],"mark":{"type":"tick","orient":"vertical","color":"#000000","size":7,"thickness":1.5},"encoding":{"x":{"field":"v","type":"quantitative"}}},
        {"data":{"name":"apt"},"transform":[{"filter":"datum.p==='d'"}],"mark":{"type":"point","shape":"circle","filled":true,"color":"#000000","size":135,"opacity":1}},
        {"data":{"name":"ann"},"transform":[{"filter":"datum.p==='d' && datum.k==='lab'"}],"mark":{"type":"text","font":"Liberation Serif","fontSize":30,"color":"#333333","align":"left","baseline":"middle"},"encoding":{"text":{"field":"t"}}},
        {"data":{"name":"ann"},"transform":[{"filter":"datum.p==='d' && datum.k==='nt'"}],"mark":{"type":"text","font":"DejaVu Sans","fontSize":29,"color":"#f2151b","align":"left","baseline":"alphabetic"},"encoding":{"text":{"field":"t"}}},
        {"data":{"name":"arr"},"mark":{"type":"rule","color":"#f2151b","strokeWidth":2.5},"encoding":{"x2":{"field":"xh"},"y2":{"field":"yh"}}},
        {"data":{"name":"arr"},"transform":[{"filter":"datum.id===1"}],"mark":{"type":"point","shape":"triangle-up","filled":true,"color":"#f2151b","size":220,"angle":226,"opacity":1},"encoding":{"x":{"field":"xh","type":"quantitative"},"y":{"field":"yh","type":"quantitative"}}},
        {"data":{"name":"arr"},"transform":[{"filter":"datum.id===2"}],"mark":{"type":"point","shape":"triangle-up","filled":true,"color":"#f2151b","size":220,"angle":315,"opacity":1},"encoding":{"x":{"field":"xh","type":"quantitative"},"y":{"field":"yh","type":"quantitative"}}}
      ]
    },
    {"data":{"values":[{"x":0,"y":0}]},"mark":{"type":"point","opacity":0},
     "encoding":{"x":{"field":"x","type":"quantitative","scale":{"domain":[-10,10],"nice":false,"zero":false},"axis":{"orient":"bottom","values":[-5,0,5],"labels":false,"title":null,"tickSize":10,"offset":-10}},
                 "y":{"field":"y","type":"quantitative","scale":{"domain":[-1.1,1.1],"nice":false,"zero":false},"axis":{"orient":"left","values":[-1,-0.5,0,0.5,1],"labels":false,"title":null,"tickSize":10,"offset":-10}}}},
    {"data":{"values":[{"x":0,"y":0}]},"mark":{"type":"point","opacity":0},
     "encoding":{"x":{"field":"x","type":"quantitative","scale":{"domain":[-10,10],"nice":false,"zero":false},"axis":{"orient":"bottom","values":[-9,-8,-7,-6,-4,-3,-2,-1,1,2,3,4,6,7,8,9],"labels":false,"title":null,"tickSize":5,"offset":-5}},
                 "y":{"field":"y","type":"quantitative","scale":{"domain":[-1.1,1.1],"nice":false,"zero":false},"axis":{"orient":"left","values":[-0.9,-0.8,-0.7,-0.6,-0.4,-0.3,-0.2,-0.1,0.1,0.2,0.3,0.4,0.6,0.7,0.8,0.9],"labels":false,"title":null,"tickSize":5,"offset":-5}}}},
    {"data":{"values":[{"x":0,"y":0}]},"mark":{"type":"point","opacity":0},
     "encoding":{"x":{"field":"x","type":"quantitative","scale":{"domain":[-10,10],"nice":false,"zero":false},"axis":{"orient":"top","values":[-9,-8,-7,-6,-4,-3,-2,-1,1,2,3,4,6,7,8,9],"labels":false,"title":null,"tickSize":5,"offset":-5}},
                 "y":{"field":"y","type":"quantitative","scale":{"domain":[-1.1,1.1],"nice":false,"zero":false},"axis":{"orient":"right","values":[-0.9,-0.8,-0.7,-0.6,-0.4,-0.3,-0.2,-0.1,0.1,0.2,0.3,0.4,0.6,0.7,0.8,0.9],"labels":false,"title":null,"tickSize":5,"offset":-5}}}}
  ],
  "resolve": {"axis": {"x":"independent","y":"independent"}}
}
]
}
